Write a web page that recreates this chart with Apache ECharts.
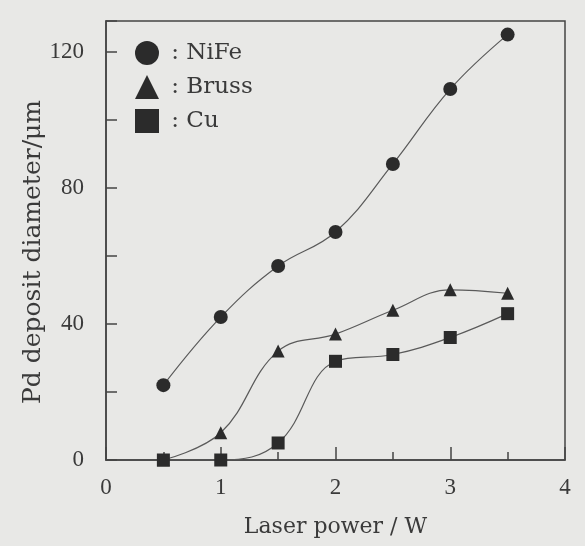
<!DOCTYPE html>
<html>
<head>
<meta charset="utf-8">
<script src="https://cdn.jsdelivr.net/npm/echarts@6/dist/echarts.min.js"></script>
<style>
html,body{margin:0;padding:0;background:#e8e8e6;}
#c{width:585px;height:546px;}
</style>
</head>
<body>
<div id="c"></div>
<script>
const power = [0.5, 1, 1.5, 2, 2.5, 3, 3.5];
const nife = [22, 42, 57, 67, 87, 109, 125];
const brass = [0, 8, 32, 37, 44, 50, 49];
const cu = [0, 0, 5, 29, 31, 36, 43];
const xTickLabels = [0, 1, 2, 3, 4];
const yTickLabels = [0, 40, 80, 120];
const xTitle = 'Laser power / W';
const yTitle = 'Pd deposit diameter/μm';

const pair = (ys) => power.map((x, i) => [x, ys[i]]);
const ink = '#3a3a3a';
const serif = 'DejaVu Serif';

const chart = echarts.init(document.getElementById('c'));
const lineStyle = { color: '#5a5a5a', width: 1.2 };
chart.setOption({
  backgroundColor: '#e8e8e6',
  animation: false,
  grid: { left: 106, right: 20, top: 21, bottom: 86, show: true, borderColor: '#444', borderWidth: 1.5, backgroundColor: 'transparent' },
  graphic: [{
    type: 'text', x: 33, y: 252, rotation: Math.PI / 2,
    style: { text: yTitle, fontFamily: serif, fontSize: 25, fill: ink, align: 'center', verticalAlign: 'middle' }
  }],
  legend: {
    orient: 'vertical', left: 130, top: 36, itemWidth: 24, itemHeight: 24, itemGap: 10,
    formatter: (n) => ' : ' + n,
    textStyle: { fontFamily: serif, fontSize: 23, color: ink },
    data: [
      { name: 'NiFe', icon: 'circle' },
      { name: 'Bruss', icon: 'triangle' },
      { name: 'Cu', icon: 'rect' }
    ]
  },
  xAxis: {
    type: 'value', min: 0, max: 4, interval: 1,
    name: xTitle, nameLocation: 'middle', nameGap: 56,
    nameTextStyle: { fontFamily: serif, fontSize: 22, color: ink },
    axisLine: { lineStyle: { color: '#444', width: 1.5 } },
    axisTick: { inside: true, length: 13, lineStyle: { color: '#444', width: 1.5 } },
    minorTick: { show: true, splitNumber: 2, length: 8, lineStyle: { color: '#444', width: 1.5 } },
    axisLabel: { margin: 16, fontFamily: 'Liberation Serif', fontSize: 23, color: ink,
      formatter: (v) => xTickLabels.includes(v) ? String(v) : '' },
    splitLine: { show: false }
  },
  yAxis: {
    type: 'value', min: 0, max: 129, interval: 20,
    axisLine: { lineStyle: { color: '#444', width: 1.5 } },
    axisTick: { inside: true, length: 11, lineStyle: { color: '#444', width: 1.5 } },
    axisLabel: { margin: 22, fontFamily: 'Liberation Serif', fontSize: 23, color: ink,
      formatter: (v) => yTickLabels.includes(v) ? String(v) : '' },
    splitLine: { show: false }
  },
  series: [
    { name: 'NiFe', type: 'line', data: pair(nife), smooth: 0.4, symbol: 'circle', symbolSize: 14,
      itemStyle: { color: '#2b2b2b' }, lineStyle: lineStyle },
    { name: 'Bruss', type: 'line', data: pair(brass), smooth: 0.4, symbol: 'triangle', symbolSize: 13,
      itemStyle: { color: '#2b2b2b' }, lineStyle: lineStyle },
    { name: 'Cu', type: 'line', data: pair(cu), smooth: 0.4, symbol: 'rect', symbolSize: 13,
      itemStyle: { color: '#2b2b2b' }, lineStyle: lineStyle }
  ]
});
</script>
</body>
</html>
